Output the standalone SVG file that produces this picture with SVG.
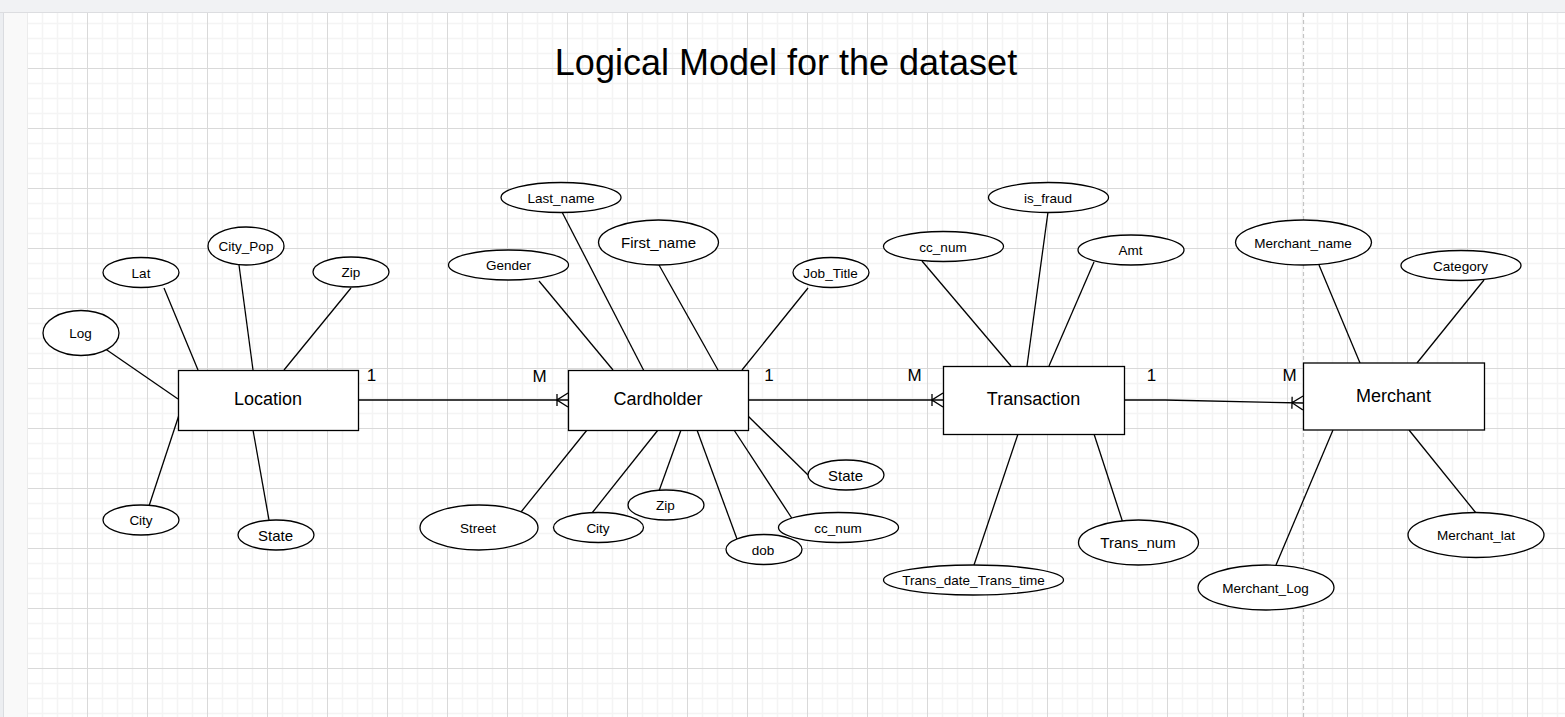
<svg xmlns="http://www.w3.org/2000/svg" width="1565" height="717" viewBox="0 0 1565 717">
<defs>
<style>
.ent{fill:#fff;stroke:#000;stroke-width:1.3}
.att{fill:#fff;stroke:#000;stroke-width:1.3}
.ln{stroke:#000;stroke-width:1.3;fill:none}
.et{font-family:"Liberation Sans",Arial,sans-serif;font-size:18px;fill:#000;text-anchor:middle}
.at{font-family:"Liberation Sans",Arial,sans-serif;font-size:13.5px;fill:#000;text-anchor:middle}
.at15{font-size:15px}
.card{font-family:"Liberation Sans",Arial,sans-serif;font-size:17px;fill:#000;text-anchor:middle}
.title{font-family:"Liberation Sans",Arial,sans-serif;font-size:36px;fill:#000;text-anchor:middle}
</style>
<pattern id="grid" patternUnits="userSpaceOnUse" x="27" y="8" width="60" height="60">
<path d="M15.5 0V60M30.5 0V60M45.5 0V60M0 15.5H60M0 30.5H60M0 45.5H60" stroke="#f4f4f4" stroke-width="1.5" fill="none"/>
<path d="M0.5 0V60M0 0.5H60" stroke="#d9d9d9" stroke-width="1" fill="none"/>
</pattern>
<marker id="crow" markerUnits="userSpaceOnUse" viewBox="0 0 12 16" markerWidth="12" markerHeight="16" refX="12" refY="8" orient="auto">
<path d="M12 1L1 8L12 15M1 2V14" stroke="#000" stroke-width="1.3" fill="none"/>
</marker>
</defs>

<g id="background">
<rect x="0" y="0" width="1565" height="717" fill="#fff"/>
<rect x="0" y="0" width="1565" height="12" fill="#f1f2f4"/>
<line x1="0" y1="12.5" x2="1565" y2="12.5" stroke="#dcdde0"/>
<rect x="0" y="13" width="3" height="704" fill="#eceef1"/>
<line x1="3.5" y1="13" x2="3.5" y2="717" stroke="#dadce0"/>
<rect x="4" y="13" width="24" height="704" fill="#f9f9f9"/>
<line x1="27.5" y1="13" x2="27.5" y2="717" stroke="#ececec"/>
<rect x="28" y="13" width="1537" height="704" fill="url(#grid)"/>
<line x1="1303.5" y1="13" x2="1303.5" y2="717" stroke="#c4c4c4" stroke-width="1.2" stroke-dasharray="4 3"/>
</g>

<text class="title" x="786" y="75">Logical Model for the dataset</text>

<g id="connectors">
<!-- relationships -->
<path class="ln" d="M358 400H568" marker-end="url(#crow)"/>
<path class="ln" d="M748 400H943" marker-end="url(#crow)"/>
<path class="ln" d="M1124 400L1165 400L1303 403" marker-end="url(#crow)"/>
<!-- Location attributes -->
<path class="ln" d="M104 348L178 399"/>
<path class="ln" d="M164 288L198 370"/>
<path class="ln" d="M239 265L253 370"/>
<path class="ln" d="M351 288L284 370"/>
<path class="ln" d="M149 506L179 415"/>
<path class="ln" d="M253 430L269 520"/>
<!-- Cardholder attributes -->
<path class="ln" d="M539 281L613 370"/>
<path class="ln" d="M562 212L644 371"/>
<path class="ln" d="M659 265L718 370"/>
<path class="ln" d="M808 288L742 370"/>
<path class="ln" d="M748 416L808 475"/>
<path class="ln" d="M734 430L793 520"/>
<path class="ln" d="M697 430L737 539"/>
<path class="ln" d="M681 430L659 491"/>
<path class="ln" d="M658 430L592 513"/>
<path class="ln" d="M587 430L521 512"/>
<!-- Transaction attributes -->
<path class="ln" d="M922 261L1011 366"/>
<path class="ln" d="M1048 212L1027 366"/>
<path class="ln" d="M1094 262L1049 366"/>
<path class="ln" d="M1018 434L974 565"/>
<path class="ln" d="M1094 434L1123 523"/>
<!-- Merchant attributes -->
<path class="ln" d="M1319 265L1360 363"/>
<path class="ln" d="M1484 280L1417 363"/>
<path class="ln" d="M1409 430L1476 513"/>
<path class="ln" d="M1333 430L1276 565"/>
</g>

<g id="cardinalities">
<text class="card" x="371.5" y="381">1</text>
<text class="card" x="539.5" y="381.5">M</text>
<text class="card" x="769" y="381">1</text>
<text class="card" x="914.5" y="381">M</text>
<text class="card" x="1151.5" y="381">1</text>
<text class="card" x="1289.5" y="381">M</text>
</g>

<g id="Location"><rect class="ent" x="178.5" y="370.5" width="180" height="60"/><text class="et" x="268" y="405">Location</text></g>
<g id="Cardholder"><rect class="ent" x="568.5" y="370.5" width="180" height="60"/><text class="et" x="658" y="405">Cardholder</text></g>
<g id="Transaction"><rect class="ent" x="943.5" y="366.5" width="181" height="68"/><text class="et" x="1033.5" y="405">Transaction</text></g>
<g id="Merchant"><rect class="ent" x="1303.5" y="363" width="181" height="67"/><text class="et" x="1393.5" y="401.5">Merchant</text></g>

<g id="loc_Log"><ellipse class="att" cx="81" cy="333" rx="38" ry="22.5"/><text class="at" x="80.5" y="338">Log</text></g>
<g id="loc_Lat"><ellipse class="att" cx="141" cy="272.5" rx="38" ry="15"/><text class="at" x="141" y="277.5">Lat</text></g>
<g id="loc_CityPop"><ellipse class="att" cx="246" cy="246" rx="38" ry="19"/><text class="at" x="246" y="251">City_Pop</text></g>
<g id="loc_Zip"><ellipse class="att" cx="351" cy="272" rx="38" ry="15"/><text class="at" x="351" y="277">Zip</text></g>
<g id="loc_City"><ellipse class="att" cx="141" cy="520" rx="38" ry="15"/><text class="at" x="141" y="525">City</text></g>
<g id="loc_State"><ellipse class="att" cx="276" cy="535" rx="38" ry="15"/><text class="at at15" x="275.5" y="540.5">State</text></g>

<g id="ch_Last_name"><ellipse class="att" cx="561" cy="197.5" rx="60" ry="15"/><text class="at" x="561" y="202.5">Last_name</text></g>
<g id="ch_First_name"><ellipse class="att" cx="658.5" cy="242.5" rx="60" ry="22.5"/><text class="at at15" x="658.5" y="248">First_name</text></g>
<g id="ch_Gender"><ellipse class="att" cx="508.5" cy="265" rx="60" ry="15"/><text class="at" x="508.5" y="270">Gender</text></g>
<g id="ch_Job_Title"><ellipse class="att" cx="831" cy="272.5" rx="38" ry="15"/><text class="at" x="830.5" y="277.5">Job_Title</text></g>
<g id="ch_State"><ellipse class="att" cx="846" cy="475" rx="38" ry="15"/><text class="at at15" x="845.5" y="480.5">State</text></g>
<g id="ch_cc_num"><ellipse class="att" cx="838.5" cy="527.5" rx="60" ry="15"/><text class="at" x="838" y="532.5">cc_num</text></g>
<g id="ch_dob"><ellipse class="att" cx="764" cy="549.5" rx="38" ry="15"/><text class="at" x="763" y="554.5">dob</text></g>
<g id="ch_Zip"><ellipse class="att" cx="666" cy="505" rx="38" ry="15"/><text class="at" x="665.5" y="510">Zip</text></g>
<g id="ch_City"><ellipse class="att" cx="598.5" cy="527.5" rx="45" ry="15"/><text class="at" x="598" y="532.5">City</text></g>
<g id="ch_Street"><ellipse class="att" cx="479" cy="527.5" rx="59" ry="22.5"/><text class="at" x="478" y="532.5">Street</text></g>

<g id="tr_is_fraud"><ellipse class="att" cx="1048.5" cy="197.5" rx="60" ry="15"/><text class="at" x="1048" y="202.5">is_fraud</text></g>
<g id="tr_cc_num"><ellipse class="att" cx="943.5" cy="246.5" rx="60" ry="15"/><text class="at" x="943" y="251.5">cc_num</text></g>
<g id="tr_Amt"><ellipse class="att" cx="1131" cy="250" rx="53" ry="15"/><text class="at" x="1130.5" y="255">Amt</text></g>
<g id="tr_Trans_num"><ellipse class="att" cx="1138.5" cy="542.5" rx="60" ry="22.5"/><text class="at at15" x="1138" y="548">Trans_num</text></g>
<g id="tr_Trans_date_Trans_time"><ellipse class="att" cx="973.5" cy="580" rx="90" ry="15"/><text class="at" x="973.5" y="585">Trans_date_Trans_time</text></g>

<g id="me_Merchant_name"><ellipse class="att" cx="1303.5" cy="242.5" rx="68" ry="22.5"/><text class="at" x="1303" y="247.5">Merchant_name</text></g>
<g id="me_Category"><ellipse class="att" cx="1461" cy="265.5" rx="60" ry="15"/><text class="at" x="1460.5" y="270.5">Category</text></g>
<g id="me_Merchant_lat"><ellipse class="att" cx="1476" cy="535" rx="68" ry="22.5"/><text class="at" x="1476" y="540">Merchant_lat</text></g>
<g id="me_Merchant_Log"><ellipse class="att" cx="1266" cy="587.5" rx="68" ry="22.5"/><text class="at" x="1265.5" y="592.5">Merchant_Log</text></g>
</svg>
